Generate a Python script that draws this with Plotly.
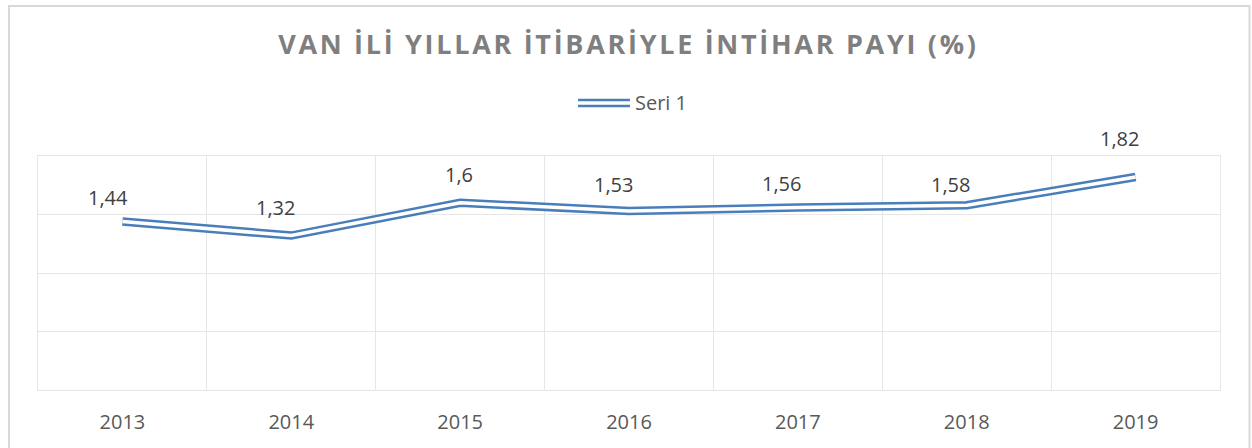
import plotly.graph_objects as go

years = ["2013", "2014", "2015", "2016", "2017", "2018", "2019"]
values = [1.44, 1.32, 1.60, 1.53, 1.56, 1.58, 1.82]
labels = ["1,44", "1,32", "1,6", "1,53", "1,56", "1,58", "1,82"]
series_name = "Seri 1"
title_text = "VAN İLİ YILLAR İTİBARİYLE İNTİHAR PAYI (%)"

# label offsets (pixels) as seen in the reference
label_dx = [-14, -16, -1, -16, -16, -16, -16]
label_dy = [24, 28, 28, 26, 24, 21, 39]

BLUE = "#4a7ebb"
GRID = "#e6e6e6"
FONT = "Open Sans, Noto Sans, sans-serif"

xs = list(range(len(years)))

fig = go.Figure()
fig.add_trace(go.Scatter(x=xs, y=values, mode="lines", name=series_name,
                         line=dict(color=BLUE, width=8.5), showlegend=False,
                         hoverinfo="skip"))
fig.add_trace(go.Scatter(x=xs, y=values, mode="lines", name=series_name,
                         line=dict(color="white", width=3.5), showlegend=False))

for i, (v, t) in enumerate(zip(values, labels)):
    fig.add_annotation(x=xs[i], y=v, text=t, showarrow=False,
                       xanchor="center", yanchor="middle",
                       xshift=label_dx[i], yshift=label_dy[i],
                       font=dict(family=FONT, size=20, color="#404040"))

# spaced title (letter-spacing imitation)
spaced = "\u200a".join(list(title_text))
fig.update_layout(
    title=dict(text=spaced, x=627 / 1252, xanchor="center", y=1 - 45 / 448,
               yanchor="middle",
               font=dict(family=FONT, size=27, color="#7f7f7f", weight="bold")),
    width=1252, height=448,
    margin=dict(l=38, r=32, t=156, b=58),
    paper_bgcolor="white", plot_bgcolor="white",
    showlegend=False,
)

fig.update_xaxes(range=[-0.5, len(years) - 0.5], tickmode="array", tickvals=xs,
                 ticktext=years, showgrid=False, zeroline=False,
                 showline=True, mirror=True, linecolor=GRID, linewidth=1,
                 ticks="", ticklabelstandoff=14,
                 tickfont=dict(family=FONT, size=20, color="#595959"),
                 minor=dict(tickvals=[i - 0.5 for i in range(len(years) + 1)],
                            showgrid=True, gridcolor=GRID, gridwidth=1, ticks=""))
fig.update_yaxes(range=[0, 2], dtick=0.5, showgrid=True, gridcolor=GRID,
                 gridwidth=1, zeroline=False, showticklabels=False,
                 showline=True, mirror=True, linecolor=GRID, linewidth=1)

# manual legend (double line + text)
ly = (390 - 103) / 234
fig.add_shape(type="line", xref="paper", yref="paper",
              x0=(578 - 38) / 1182, x1=(630 - 38) / 1182, y0=ly, y1=ly,
              line=dict(color=BLUE, width=8.5))
fig.add_shape(type="line", xref="paper", yref="paper",
              x0=(578 - 38) / 1182, x1=(630 - 38) / 1182, y0=ly, y1=ly,
              line=dict(color="white", width=3.5))
fig.add_annotation(xref="paper", yref="paper", x=(633 - 38) / 1182, y=ly,
                   text=series_name, showarrow=False, xanchor="left",
                   yanchor="middle",
                   font=dict(family=FONT, size=20, color="#595959"))

# chart border
fig.add_shape(type="rect", xref="paper", yref="paper",
              x0=(9 - 38) / 1182, x1=(1249.5 - 38) / 1182,
              y0=(390 - 460) / 234, y1=(390 - 6) / 234,
              line=dict(color="#d9d9d9", width=2), fillcolor="rgba(0,0,0,0)",
              layer="below")

fig.write_html("out.html", config={"displayModeBar": False},
               post_script="document.body.style.margin='0';"
                           "document.body.style.overflow='hidden';")
